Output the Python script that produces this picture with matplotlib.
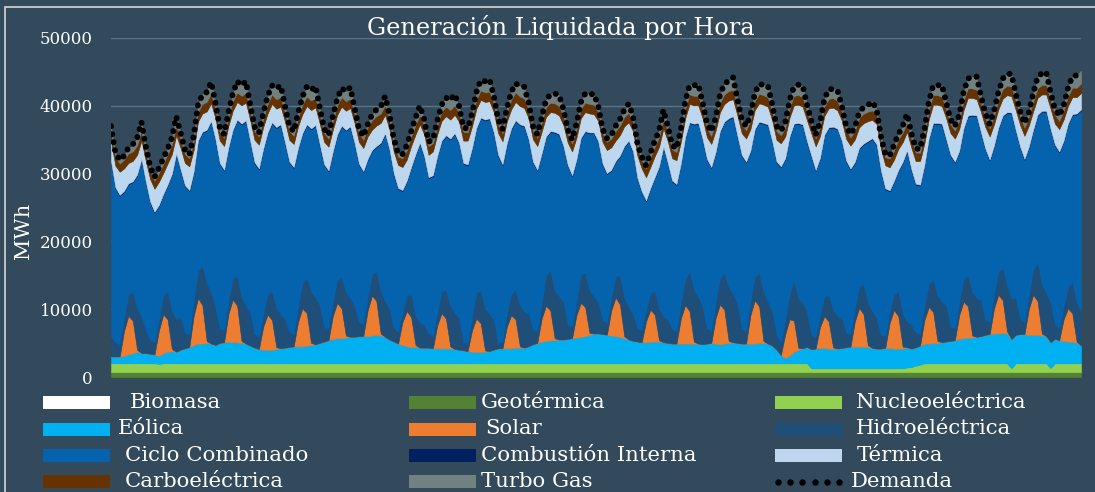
import matplotlib
matplotlib.use("Agg")
import matplotlib.pyplot as plt
from matplotlib.patches import Rectangle
from matplotlib.lines import Line2D

plt.rcParams['font.family'] = ['DejaVu Serif']

# hour of each reading: one every 3 hours over 28 days
horas = list(range(1, 672, 3))

demanda = [
    37000, 33100, 32000, 32600, 33800, 34300, 35200, 37600,
    34000, 31000, 29500, 30800, 32200, 33600, 35300, 38400,
    36000, 33500, 32800, 35500, 40200, 41600, 42000, 43500,
    40500, 36800, 35800, 39000, 41800, 43600, 43000, 43600,
    40200, 36900, 36000, 38900, 41400, 43000, 42500, 43000,
    40000, 37000, 36200, 38900, 41300, 42800, 42300, 42900,
    39700, 36600, 35700, 38500, 41000, 42600, 42100, 42700,
    39700, 36600, 35500, 37200, 38700, 39400, 39800, 41400,
    38800, 35200, 33000, 32800, 34200, 36200, 38200, 40000,
    38000, 34700, 35000, 37800, 40100, 41200, 40800, 41700,
    40000, 36800, 36600, 38900, 42000, 43800, 43600, 43900,
    41500, 38000, 36600, 39600, 42000, 43300, 42900, 42800,
    40500, 37000, 35800, 38200, 40800, 41700, 41800, 41600,
    39500, 36500, 35000, 37300, 40500, 41800, 41600, 41800,
    40000, 36600, 35200, 35600, 37000, 38000, 39400, 40300,
    38500, 34500, 32500, 31200, 33000, 34800, 36300, 39400,
    37000, 34200, 33700, 36500, 40600, 43000, 43000, 43200,
    40500, 37400, 36200, 38200, 41600, 43200, 43700, 44200,
    41000, 38000, 37000, 38600, 41800, 43200, 43100, 43000,
    40200, 37000, 36300, 37500, 40800, 42800, 43100, 43000,
    40200, 37800, 35700, 37500, 41000, 42400, 42500, 42300,
    40000, 37000, 35800, 36800, 39000, 39800, 40100, 40600,
    39500, 35500, 32900, 32600, 34200, 35800, 37000, 38800,
    36000, 33700, 33600, 36500, 40500, 43000, 43000, 43100,
    40500, 38000, 37000, 38600, 42000, 44000, 44300, 44300,
    41500, 38900, 37300, 39200, 42000, 44000, 44700, 44700,
    41800, 39200, 37400, 39000, 41800, 44200, 44800, 45000,
    42000, 39500, 38500, 40000, 42600, 44300, 44500, 45200,
]

biomasa = [
    20, 20, 20, 20, 20, 20, 20, 20, 20, 20, 20, 20, 20, 20, 20, 20,
    20, 20, 20, 20, 20, 20, 20, 20, 20, 20, 20, 20, 20, 20, 20, 20,
    20, 20, 20, 20, 20, 20, 20, 20, 20, 20, 20, 20, 20, 20, 20, 20,
    20, 20, 20, 20, 20, 20, 20, 20, 20, 20, 20, 20, 20, 20, 20, 20,
    20, 20, 20, 20, 20, 20, 20, 20, 20, 20, 20, 20, 20, 20, 20, 20,
    20, 20, 20, 20, 20, 20, 20, 20, 20, 20, 20, 20, 20, 20, 20, 20,
    20, 20, 20, 20, 20, 20, 20, 20, 20, 20, 20, 20, 20, 20, 20, 20,
    20, 20, 20, 20, 20, 20, 20, 20, 20, 20, 20, 20, 20, 20, 20, 20,
    20, 20, 20, 20, 20, 20, 20, 20, 20, 20, 20, 20, 20, 20, 20, 20,
    20, 20, 20, 20, 20, 20, 20, 20, 20, 20, 20, 20, 20, 20, 20, 20,
    20, 20, 20, 20, 20, 20, 20, 20, 20, 20, 20, 20, 20, 20, 20, 20,
    20, 20, 20, 20, 20, 20, 20, 20, 20, 20, 20, 20, 20, 20, 20, 20,
    20, 20, 20, 20, 20, 20, 20, 20, 20, 20, 20, 20, 20, 20, 20, 20,
    20, 20, 20, 20, 20, 20, 20, 20, 20, 20, 20, 20, 20, 20, 20, 20,
]

geotermica = [
    680, 680, 680, 680, 680, 680, 680, 680, 680, 680, 680, 680, 680, 680, 680, 680,
    680, 680, 680, 680, 680, 680, 680, 680, 680, 680, 680, 680, 680, 680, 680, 680,
    680, 680, 680, 680, 680, 680, 680, 680, 680, 680, 680, 680, 680, 680, 680, 680,
    680, 680, 680, 680, 680, 680, 680, 680, 680, 680, 680, 680, 680, 680, 680, 680,
    680, 680, 680, 680, 680, 680, 680, 680, 680, 680, 680, 680, 680, 680, 680, 680,
    680, 680, 680, 680, 680, 680, 680, 680, 680, 680, 680, 680, 680, 680, 680, 680,
    680, 680, 680, 680, 680, 680, 680, 680, 680, 680, 680, 680, 680, 680, 680, 680,
    680, 680, 680, 680, 680, 680, 680, 680, 680, 680, 680, 680, 680, 680, 680, 680,
    680, 680, 680, 680, 680, 680, 680, 680, 680, 680, 680, 680, 680, 680, 680, 680,
    680, 680, 680, 680, 680, 680, 680, 680, 680, 680, 680, 680, 680, 680, 680, 680,
    680, 680, 680, 680, 680, 680, 680, 680, 680, 680, 680, 680, 680, 680, 680, 680,
    680, 680, 680, 680, 680, 680, 680, 680, 680, 680, 680, 680, 680, 680, 680, 680,
    680, 680, 680, 680, 680, 680, 680, 680, 680, 680, 680, 680, 680, 680, 680, 680,
    680, 680, 680, 680, 680, 680, 680, 680, 680, 680, 680, 680, 680, 680, 680, 680,
]

nucleoelectrica = [
    1320, 1320, 1320, 1320, 1320, 1320, 1320, 1320,
    1320, 1320, 1320, 1220, 1320, 1320, 1320, 1320,
    1320, 1320, 1320, 1320, 1320, 1320, 1320, 1320,
    1320, 1320, 1320, 1320, 1320, 1320, 1320, 1320,
    1320, 1320, 1320, 1320, 1320, 1320, 1320, 1320,
    1320, 1320, 1320, 1320, 1320, 1320, 1320, 1320,
    1320, 1320, 1320, 1320, 1320, 1320, 1320, 1320,
    1320, 1320, 1320, 1320, 1320, 1320, 1320, 1320,
    1320, 1320, 1320, 1320, 1320, 1320, 1320, 1320,
    1320, 1320, 1320, 1320, 1320, 1320, 1320, 1320,
    1320, 1320, 1320, 1320, 1320, 1320, 1320, 1320,
    1320, 1320, 1320, 1320, 1320, 1320, 1320, 1320,
    1320, 1320, 1320, 1320, 1320, 1320, 1320, 1320,
    1320, 1320, 1320, 1320, 1320, 1320, 1320, 1320,
    1320, 1320, 1320, 1320, 1320, 1320, 1320, 1320,
    1320, 1320, 1320, 1320, 1320, 1320, 1320, 1320,
    1320, 1320, 1320, 1320, 1320, 1320, 1320, 1320,
    1320, 1320, 1320, 1320, 1320, 1320, 1320, 1320,
    1320, 1320, 1320, 1320, 1320, 1320, 1320, 1320,
    1320, 1320, 1320, 1320, 1320, 1320, 1320, 1320,
    1320, 580, 580, 580, 580, 580, 580, 580,
    580, 580, 580, 580, 580, 580, 580, 580,
    580, 580, 580, 580, 580, 580, 580, 700,
    770, 970, 1120, 1320, 1320, 1320, 1320, 1320,
    1320, 1320, 1320, 1320, 1320, 1320, 1320, 1320,
    1320, 1320, 1320, 1320, 1320, 1320, 1320, 570,
    1320, 1320, 1320, 1320, 1320, 1320, 1320, 1320,
    620, 1320, 1320, 1320, 1320, 1320, 1320, 1320,
]

eolica = [
    1000, 1000, 1000, 1100, 1300, 1500, 1700, 1500,
    1500, 1400, 1300, 1200, 1500, 1700, 1800, 1700,
    2000, 2200, 2400, 2700, 2900, 2900, 3000, 2900,
    2700, 3000, 3100, 3200, 3100, 3100, 3000, 2900,
    2600, 2300, 2100, 2000, 2000, 2000, 2100, 2200,
    2300, 2400, 2500, 2500, 2500, 2600, 2700, 2800,
    3000, 3200, 3400, 3600, 3700, 3700, 3800, 3900,
    3900, 4000, 4000, 4000, 4100, 4200, 4100, 3900,
    3500, 3200, 2900, 2700, 2500, 2400, 2400, 2300,
    2300, 2300, 2200, 2200, 2200, 2200, 2200, 2100,
    2000, 1900, 1800, 1700, 1700, 1700, 1700, 1800,
    2000, 2200, 2200, 2200, 2200, 2300, 2300, 2300,
    2500, 2800, 3000, 3200, 3300, 3400, 3400, 3500,
    3500, 3600, 3700, 3800, 3900, 4000, 4200, 4400,
    4400, 4300, 4200, 4100, 4000, 3900, 3700, 3500,
    3300, 3200, 3100, 3100, 3200, 3200, 3200, 3100,
    3000, 2900, 2900, 2900, 2900, 2900, 2900, 2900,
    2800, 2900, 3000, 2900, 2800, 2900, 3000, 3100,
    3000, 2900, 2900, 2900, 2900, 3000, 3000, 2900,
    2600, 2000, 1200, 800, 1100, 1700, 2000, 2200,
    2400, 2800, 2900, 3000, 3000, 2900, 2900, 2900,
    3000, 3100, 3200, 3200, 3200, 3200, 3100, 3000,
    2900, 2900, 3000, 3000, 2900, 2900, 2900, 3000,
    2700, 2700, 2800, 2900, 2900, 3000, 3000, 3100,
    3200, 3300, 3400, 3600, 3700, 3800, 3800, 3900,
    4000, 4200, 4300, 4400, 4400, 4500, 4400, 4300,
    4200, 4300, 4300, 4200, 4200, 4200, 4100, 4000,
    3800, 3600, 3400, 3300, 3200, 3200, 3000, 2600,
]

solar = [
    0, 0, 0, 3700, 5700, 4800, 300, 0,
    0, 0, 0, 3700, 5700, 4800, 300, 0,
    0, 0, 0, 4300, 6700, 5700, 300, 0,
    0, 0, 0, 4100, 6300, 5400, 300, 0,
    0, 0, 0, 3400, 5200, 4400, 300, 0,
    0, 0, 0, 3600, 5600, 4800, 300, 0,
    0, 0, 0, 3400, 5200, 4400, 300, 0,
    0, 0, 0, 3800, 5900, 5000, 300, 0,
    0, 0, 0, 3400, 5200, 4400, 300, 0,
    0, 0, 0, 3400, 5200, 4400, 300, 0,
    0, 0, 0, 3200, 4900, 4200, 200, 0,
    0, 0, 0, 3200, 4900, 4200, 200, 0,
    0, 0, 0, 3400, 5200, 4400, 300, 0,
    0, 0, 0, 3300, 5000, 4300, 300, 0,
    0, 0, 0, 3700, 5700, 4800, 300, 0,
    0, 0, 0, 3100, 4700, 4000, 200, 0,
    0, 0, 0, 3700, 5700, 4800, 300, 0,
    0, 0, 0, 3800, 5900, 5000, 300, 0,
    0, 0, 0, 4200, 6400, 5400, 300, 0,
    0, 0, 0, 3500, 5400, 4600, 300, 0,
    0, 0, 0, 3100, 4700, 4000, 200, 0,
    0, 0, 0, 3700, 5700, 4800, 300, 0,
    0, 0, 0, 3700, 5700, 4800, 300, 0,
    0, 0, 0, 3500, 5400, 4600, 300, 0,
    0, 0, 0, 3500, 5400, 4600, 300, 0,
    0, 0, 0, 3700, 5700, 4800, 300, 0,
    0, 0, 0, 3800, 5900, 5000, 300, 0,
    0, 0, 0, 3200, 4900, 4200, 200, 0,
]

hidroelectrica = [
    3000, 2100, 1800, 1900, 3100, 4300, 6100, 5300,
    3300, 2100, 1800, 1600, 2800, 4200, 5600, 4800,
    4800, 2300, 1800, 2200, 4000, 5800, 8500, 7600,
    5600, 2100, 1800, 1800, 3200, 4400, 6500, 5600,
    4800, 2100, 1800, 1800, 3000, 4200, 5800, 5000,
    4300, 2200, 1800, 2200, 3800, 5200, 7600, 6900,
    5500, 2100, 1800, 2000, 3400, 4500, 6400, 5700,
    4600, 2100, 1800, 1800, 3100, 4400, 6200, 5300,
    4500, 2000, 1800, 1400, 2300, 3400, 4400, 3600,
    3400, 2100, 1800, 1800, 3200, 4300, 6000, 5300,
    4700, 1200, 1300, 2000, 3800, 4800, 6200, 5500,
    4500, 800, 1000, 1900, 3100, 4300, 6000, 5300,
    4800, 2200, 1800, 2100, 4500, 5900, 7000, 6400,
    5600, 2100, 1800, 1900, 4100, 5100, 6200, 5500,
    4600, 2100, 1800, 1700, 3100, 4300, 5600, 4800,
    4000, 2000, 1800, 1600, 2500, 3400, 4700, 3800,
    3500, 2200, 1800, 2200, 3800, 5900, 7600, 6900,
    5500, 2300, 1800, 2300, 3900, 5400, 7900, 7100,
    5700, 2200, 1800, 1900, 3500, 4900, 7100, 6200,
    5200, 2200, 1800, 2200, 3700, 6000, 7300, 6700,
    5200, 2100, 1800, 1800, 2900, 3900, 5500, 4800,
    4500, 2100, 1800, 1900, 3200, 4400, 6300, 5500,
    4500, 2000, 1800, 1500, 2300, 3600, 4800, 3800,
    3500, 2200, 1800, 2000, 3400, 4700, 6700, 6000,
    5400, 2100, 1800, 2000, 3300, 4600, 6400, 5700,
    5400, 2200, 1800, 2000, 3400, 4800, 6700, 6000,
    5500, 2200, 1800, 2100, 3600, 5600, 7200, 6400,
    5800, 2100, 1800, 1900, 3100, 4600, 5800, 5000,
]

ciclo_combinado = [
    25600, 22700, 21900, 18600, 16300, 16100, 19600, 23200,
    21800, 20200, 19100, 16800, 14800, 15500, 20100, 24300,
    21600, 21600, 21200, 18900, 19100, 19600, 22500, 25100,
    24600, 24300, 23500, 22600, 21700, 22900, 25400, 27200,
    25200, 25100, 24700, 24300, 23700, 24800, 26500, 27900,
    25800, 25000, 24500, 23300, 21900, 22500, 23900, 25300,
    23600, 23900, 23100, 22100, 21300, 22300, 23800, 25200,
    23800, 23200, 22400, 20400, 18200, 18300, 21800, 24600,
    23400, 22700, 21000, 17900, 16800, 18600, 23600, 26500,
    24700, 22900, 23600, 23000, 22100, 22600, 24500, 26400,
    25700, 26300, 26100, 24700, 24200, 25400, 27700, 28700,
    27400, 27600, 26000, 25000, 24300, 24900, 26600, 27300,
    25600, 24600, 23600, 22100, 20300, 20400, 23300, 23800,
    22800, 23400, 22100, 20900, 20100, 20700, 23200, 24000,
    23600, 22900, 21900, 18900, 16900, 17500, 22300, 24400,
    23800, 22000, 20300, 16100, 15300, 16700, 20800, 24900,
    22900, 21700, 21600, 20500, 20800, 21800, 24400, 25500,
    24600, 24800, 24000, 22000, 21500, 22200, 24800, 26100,
    24700, 25500, 24900, 22200, 21600, 22200, 24900, 26000,
    24800, 25400, 25900, 23600, 23100, 22900, 25700, 26200,
    25000, 26300, 24400, 23000, 23700, 24600, 26900, 27500,
    25900, 25300, 24300, 21500, 20300, 20600, 23700, 25300,
    25500, 24100, 21600, 17900, 16600, 17800, 22300, 25100,
    22800, 21800, 21800, 20700, 21300, 23000, 25300, 26100,
    24300, 25200, 24400, 22100, 22100, 23400, 26000, 26800,
    24500, 25100, 23800, 21900, 21100, 22300, 25500, 27300,
    24500, 25300, 23900, 21700, 20600, 21700, 25500, 26700,
    25500, 26400, 25900, 24300, 24000, 24600, 27700, 29700,
]

combustion_interna = [
    150, 150, 150, 150, 150, 150, 150, 150, 150, 150, 150, 150, 150, 150, 150, 150,
    150, 150, 150, 150, 150, 150, 150, 150, 150, 150, 150, 150, 150, 150, 150, 150,
    150, 150, 150, 150, 150, 150, 150, 150, 150, 150, 150, 150, 150, 150, 150, 150,
    150, 150, 150, 150, 150, 150, 150, 150, 150, 150, 150, 150, 150, 150, 150, 150,
    150, 150, 150, 150, 150, 150, 150, 150, 150, 150, 150, 150, 150, 150, 150, 150,
    150, 150, 150, 150, 150, 150, 150, 150, 150, 150, 150, 150, 150, 150, 150, 150,
    150, 150, 150, 150, 150, 150, 150, 150, 150, 150, 150, 150, 150, 150, 150, 150,
    150, 150, 150, 150, 150, 150, 150, 150, 150, 150, 150, 150, 150, 150, 150, 150,
    150, 150, 150, 150, 150, 150, 150, 150, 150, 150, 150, 150, 150, 150, 150, 150,
    150, 150, 150, 150, 150, 150, 150, 150, 150, 150, 150, 150, 150, 150, 150, 150,
    150, 150, 150, 150, 150, 150, 150, 150, 150, 150, 150, 150, 150, 150, 150, 150,
    150, 150, 150, 150, 150, 150, 150, 150, 150, 150, 150, 150, 150, 150, 150, 150,
    150, 150, 150, 150, 150, 150, 150, 150, 150, 150, 150, 150, 150, 150, 150, 150,
    150, 150, 150, 150, 150, 150, 150, 150, 150, 150, 150, 150, 150, 150, 150, 150,
]

termica = [
    3000, 3200, 3400, 3300, 3000, 3000, 2900, 2700,
    3100, 3300, 3400, 3400, 3100, 3100, 2900, 2700,
    3200, 3300, 3500, 3200, 2800, 2700, 2700, 2600,
    3100, 3300, 3500, 3200, 2800, 2600, 2700, 2600,
    3100, 3300, 3500, 3200, 2800, 2700, 2700, 2600,
    3100, 3200, 3400, 3200, 2800, 2700, 2700, 2600,
    3100, 3300, 3500, 3200, 2900, 2800, 2800, 2700,
    3000, 3200, 3400, 3300, 3000, 3000, 2900, 2700,
    3000, 3200, 3400, 3400, 3100, 3100, 2900, 2700,
    3200, 3300, 3500, 3200, 2900, 2800, 2800, 2700,
    3100, 3300, 3500, 3200, 2800, 2600, 2600, 2500,
    3000, 3200, 3400, 3200, 2800, 2700, 2700, 2600,
    3100, 3300, 3500, 3200, 2900, 2800, 2800, 2700,
    3100, 3300, 3500, 3200, 2900, 2800, 2800, 2700,
    3000, 3200, 3400, 3300, 3000, 3000, 2900, 2700,
    3000, 3300, 3400, 3400, 3100, 3100, 2900, 2700,
    3200, 3300, 3500, 3200, 2800, 2700, 2700, 2600,
    3100, 3200, 3400, 3200, 2800, 2600, 2600, 2500,
    3000, 3200, 3400, 3200, 2800, 2700, 2700, 2600,
    3100, 3200, 3400, 3200, 2800, 2700, 2700, 2600,
    3100, 3300, 3500, 3200, 2800, 2800, 2800, 2700,
    3000, 3200, 3400, 3300, 3000, 3000, 2900, 2700,
    3000, 3200, 3400, 3400, 3100, 3100, 2900, 2700,
    3200, 3300, 3500, 3200, 2800, 2700, 2700, 2600,
    3100, 3200, 3400, 3200, 2700, 2600, 2500, 2400,
    3000, 3200, 3400, 3100, 2700, 2500, 2500, 2400,
    3000, 3200, 3400, 3100, 2700, 2500, 2400, 2400,
    3000, 3100, 3300, 3100, 2600, 2500, 2400, 2400,
]

carboelectrica = [
    1300, 1300, 1200, 1300, 1400, 1400, 1400, 1400,
    1300, 1300, 1200, 1300, 1400, 1400, 1400, 1400,
    1300, 1300, 1200, 1300, 1400, 1400, 1400, 1400,
    1300, 1300, 1200, 1300, 1400, 1400, 1400, 1400,
    1300, 1300, 1200, 1300, 1400, 1400, 1400, 1400,
    1300, 1300, 1200, 1300, 1400, 1400, 1400, 1400,
    1300, 1300, 1200, 1300, 1400, 1400, 1400, 1400,
    1300, 1300, 1200, 1300, 1400, 1400, 1400, 1400,
    1300, 1300, 1200, 1300, 1400, 1400, 1400, 1400,
    1300, 1300, 1200, 1300, 1400, 1400, 1400, 1400,
    1300, 1300, 1200, 1300, 1400, 1400, 1400, 1400,
    1300, 1300, 1200, 1300, 1400, 1400, 1400, 1400,
    1300, 1300, 1200, 1300, 1400, 1400, 1400, 1400,
    1300, 1300, 1200, 1300, 1400, 1400, 1400, 1400,
    1300, 1300, 1200, 1300, 1400, 1400, 1400, 1400,
    1300, 1300, 1200, 1300, 1400, 1400, 1400, 1400,
    1300, 1300, 1200, 1300, 1400, 1400, 1400, 1400,
    1300, 1300, 1200, 1300, 1400, 1400, 1400, 1400,
    1300, 1300, 1200, 1300, 1400, 1400, 1400, 1400,
    1300, 1300, 1200, 1300, 1400, 1400, 1400, 1400,
    1300, 1300, 1200, 1300, 1400, 1400, 1400, 1400,
    1300, 1300, 1200, 1300, 1400, 1400, 1400, 1400,
    1300, 1300, 1200, 1300, 1400, 1400, 1400, 1400,
    1300, 1300, 1200, 1300, 1400, 1400, 1400, 1400,
    1300, 1300, 1200, 1300, 1400, 1400, 1400, 1400,
    1300, 1300, 1200, 1300, 1400, 1400, 1400, 1400,
    1300, 1300, 1200, 1300, 1400, 1400, 1400, 1400,
    1300, 1300, 1200, 1300, 1400, 1400, 1400, 1400,
]

turbo_gas = [
    900, 600, 500, 600, 800, 900, 1000, 1300,
    800, 500, 500, 500, 700, 800, 1000, 1300,
    900, 600, 500, 700, 1100, 1400, 1500, 1700,
    1000, 600, 500, 700, 1100, 1500, 1500, 1700,
    1000, 600, 500, 700, 1100, 1400, 1500, 1700,
    1000, 700, 600, 700, 1100, 1400, 1500, 1700,
    1000, 600, 500, 700, 1000, 1300, 1400, 1600,
    900, 600, 500, 600, 800, 900, 1000, 1300,
    900, 600, 500, 500, 700, 800, 1000, 1300,
    900, 600, 500, 700, 1000, 1300, 1400, 1600,
    1000, 600, 500, 700, 1100, 1500, 1600, 1800,
    1100, 700, 600, 700, 1100, 1400, 1500, 1700,
    1000, 600, 500, 700, 1000, 1300, 1400, 1600,
    1000, 600, 500, 700, 1000, 1300, 1400, 1600,
    900, 600, 500, 600, 800, 900, 1000, 1300,
    900, 500, 500, 500, 700, 800, 1000, 1300,
    900, 600, 500, 700, 1100, 1400, 1500, 1700,
    1000, 700, 600, 700, 1100, 1500, 1600, 1800,
    1100, 700, 600, 700, 1100, 1400, 1500, 1700,
    1000, 700, 600, 700, 1100, 1400, 1500, 1700,
    1000, 600, 500, 700, 1100, 1300, 1400, 1600,
    900, 600, 500, 600, 800, 900, 1000, 1300,
    900, 600, 500, 500, 700, 800, 1000, 1300,
    900, 600, 500, 700, 1100, 1400, 1500, 1700,
    1000, 700, 600, 700, 1200, 1500, 1700, 1900,
    1100, 700, 600, 800, 1200, 1600, 1700, 1900,
    1100, 700, 600, 800, 1200, 1600, 1800, 1900,
    1100, 800, 700, 800, 1300, 1600, 1800, 1900,
]

nombres = ['Biomasa', 'Geotérmica', 'Nucleoeléctrica', 'Eólica', 'Solar',
           'Hidroeléctrica', 'Ciclo Combinado', 'Combustión Interna',
           'Térmica', 'Carboeléctrica', 'Turbo Gas']
colores = ['#ffffff', '#548235', '#92d050', '#00b0f0', '#ed7d31',
           '#1f4e79', '#0563ae', '#002060', '#bdd7ee', '#663300', '#718080']
series = [biomasa, geotermica, nucleoelectrica, eolica, solar, hidroelectrica,
          ciclo_combinado, combustion_interna, termica, carboelectrica, turbo_gas]

fondo = '#324a5b'
W, H = 1095, 492

fig = plt.figure(figsize=(W / 100, H / 100), dpi=100, facecolor=fondo)
ax = fig.add_axes([111 / W, 1 - 377 / H, (1081 - 111) / W, (377 - 38) / H])
ax.set_facecolor(fondo)

capas = ax.stackplot(horas, *series, colors=colores)
for capa, c in zip(capas, colores):
    capa.set_edgecolor(c)
    capa.set_linewidth(0.4)
capas[0].set_linewidth(0)

ax.plot(horas, demanda, color='black', lw=4.3, linestyle=(0, (0.01, 1.35)),
        dash_capstyle='round', solid_capstyle='round')

ax.set_xlim(horas[0], horas[-1])
ax.set_ylim(0, 50000)
ax.set_yticks([0, 10000, 20000, 30000, 40000, 50000])
ax.set_xticks([])
ax.tick_params(axis='y', length=0, colors='white', labelsize=12, pad=13)
for s in ax.spines.values():
    s.set_visible(False)
ax.grid(axis='y', color='#5b7384', lw=1)
ax.set_axisbelow(True)

fig.text(561 / W, 1 - 27 / H, 'Generación Liquidada por Hora', ha='center',
         va='center', fontsize=17.3, color='white')
fig.text(24 / W, 1 - 231 / H, 'MWh', rotation=90, ha='center', va='center',
         fontsize=15, color='white')

# frame
fig.add_artist(Rectangle((4.5 / W, -0.1), 1.2, 1.1 - 6.5 / H, transform=fig.transFigure,
                         fill=False, edgecolor='#d6d6d6', lw=1.2))

# legend, drawn row by row like the original
filas_y = [402.5, 429, 455.5, 481.5]
col_x = [43, 409, 775]
texto_x = [[130, 481, 856], [118, 485, 856], [125, 481, 857], [125, 481, 851]]
orden = [[0, 1, 2], [3, 4, 5], [6, 7, 8], [9, 10, None]]
for i, fila in enumerate(orden):
    for j, k in enumerate(fila):
        y = 1 - filas_y[i] / H
        if k is None:
            xs = [(col_x[j] + 3 + 12.2 * n) / W for n in range(6)]
            fig.add_artist(Line2D(xs, [y] * 6, transform=fig.transFigure, ls='none',
                                  marker='o', ms=3.6, color='black'))
            etiqueta = 'Demanda'
        else:
            fig.add_artist(Rectangle((col_x[j] / W, y - 6.5 / H), 67 / W, 13 / H,
                                     transform=fig.transFigure, facecolor=colores[k],
                                     edgecolor='none'))
            etiqueta = nombres[k]
        fig.text(texto_x[i][j] / W, y, etiqueta, ha='left', va='center',
                 fontsize=15.3, color='white')

fig.savefig('out.png', dpi=100, facecolor=fondo)
